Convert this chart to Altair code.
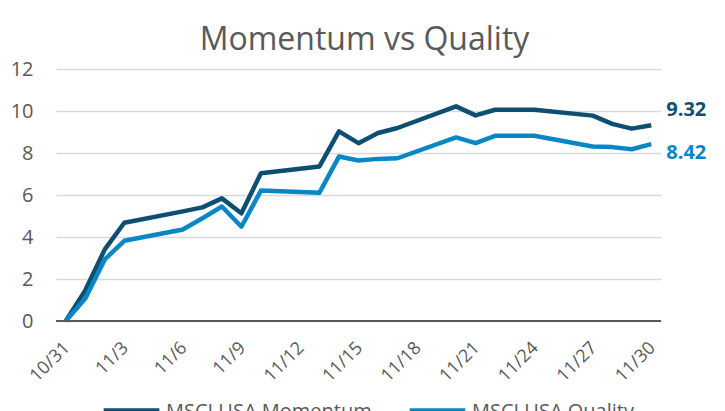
import altair as alt
import pandas as pd

dates = ["2023-10-31", "2023-11-01", "2023-11-02", "2023-11-03", "2023-11-06", "2023-11-07",
         "2023-11-08", "2023-11-09", "2023-11-10", "2023-11-13", "2023-11-14", "2023-11-15",
         "2023-11-16", "2023-11-17", "2023-11-20", "2023-11-21", "2023-11-22", "2023-11-24",
         "2023-11-27", "2023-11-28", "2023-11-29", "2023-11-30"]
momentum = [0, 1.46, 3.41, 4.68, 5.22, 5.41, 5.84, 5.13, 7.04, 7.36, 9.03, 8.47,
            8.95, 9.19, 10.22, 9.79, 10.06, 10.06, 9.78, 9.39, 9.16, 9.32]
quality = [0, 1.07, 2.93, 3.82, 4.36, 4.89, 5.45, 4.49, 6.21, 6.11, 7.83, 7.64,
           7.72, 7.75, 8.74, 8.47, 8.82, 8.82, 8.31, 8.28, 8.18, 8.42]
series_names = ["MSCI USA Momentum", "MSCI USA Quality"]
colors = ["#0D4E71", "#0A86C4"]
tick_days = [31, 3, 6, 9, 12, 15, 18, 21, 24, 27, 30]
tick_months = [10, 11, 11, 11, 11, 11, 11, 11, 11, 11, 11]

FONT = "Open Sans"

df = pd.DataFrame(
    [{"date": d, "value": v, "series": series_names[0]} for d, v in zip(dates, momentum)]
    + [{"date": d, "value": v, "series": series_names[1]} for d, v in zip(dates, quality)]
)
df_m_last = pd.DataFrame({"date": [dates[-1]], "value": [momentum[-1]]})
df_q_last = pd.DataFrame({"date": [dates[-1]], "value": [quality[-1]]})

x_scale = alt.Scale(
    type="utc",
    domain=[alt.DateTime(year=2023, month=10, date=30, hours=12, utc=True),
            alt.DateTime(year=2023, month=11, date=30, hours=12, utc=True)],
)
x_axis = alt.Axis(
    values=[alt.DateTime(year=2023, month=m, date=d, utc=True) for m, d in zip(tick_months, tick_days)],
    format="%-m/%-d",
    labelAngle=-45,
    labelAlign="right",
    labelBaseline="middle",
    labelFontSize=18,
    labelColor="#595959",
    labelFont=FONT,
    labelPadding=24,
    labelOffset=1,
    ticks=False,
    domain=False,
    grid=False,
    title=None,
    labelOverlap=False,
)
y_axis = alt.Axis(
    values=[0, 2, 4, 6, 8, 10, 12],
    labelFontSize=20,
    labelColor="#595959",
    labelFont=FONT,
    labelPadding=23,
    ticks=False,
    domain=False,
    grid=True,
    gridColor="#D9D9D9",
    gridWidth=1.5,
    title=None,
)

x = alt.X("date:T", scale=x_scale, axis=x_axis)
y = alt.Y("value:Q", scale=alt.Scale(domain=[0, 12], nice=False), axis=y_axis)

zero = alt.Chart(pd.DataFrame({"v": [0]})).mark_rule(color="#595959", strokeWidth=2).encode(y=alt.Y("v:Q"))

lines = alt.Chart(df).mark_line(strokeWidth=4.5, strokeJoin="round").encode(
    x=x,
    y=y,
    color=alt.Color(
        "series:N",
        scale=alt.Scale(domain=series_names, range=colors),
        legend=alt.Legend(
            title=None,
            orient="none",
            legendX=44,
            legendY=311,
            padding=0,
            direction="horizontal",
            symbolType="stroke",
            symbolSize=3100,
            symbolStrokeWidth=7,
            symbolOpacity=1,
            labelFontSize=20,
            labelFont=FONT,
            labelColor="#595959",
            labelLimit=0,
            columnPadding=23,
            symbolOffset=0,
            labelOffset=3,
        ),
    ),
)

lab_m = alt.Chart(df_m_last).mark_text(
    align="left", baseline="middle", dx=15, dy=-15, fontSize=20, fontWeight="bold", font=FONT, color=colors[0]
).encode(x=x, y=y, text=alt.Text("value:Q", format=".2f"))

lab_q = alt.Chart(df_q_last).mark_text(
    align="left", baseline="middle", dx=15, dy=9, fontSize=20, fontWeight="bold", font=FONT, color=colors[1]
).encode(x=x, y=y, text=alt.Text("value:Q", format=".2f"))

chart = alt.layer(lines, zero, lab_m, lab_q).properties(
    width=605,
    height=252,
    title=alt.TitleParams("Momentum vs Quality", fontSize=32, font=FONT, fontWeight="normal",
                          color="#595959", anchor="middle", dx=6, offset=2),
    autosize=alt.AutoSizeParams(type="none"),
    padding={"left": 48, "top": 61, "right": 56, "bottom": 90},
).configure_view(stroke=None)

chart.save("out.html", embed_options={"renderer": "svg", "actions": False})
